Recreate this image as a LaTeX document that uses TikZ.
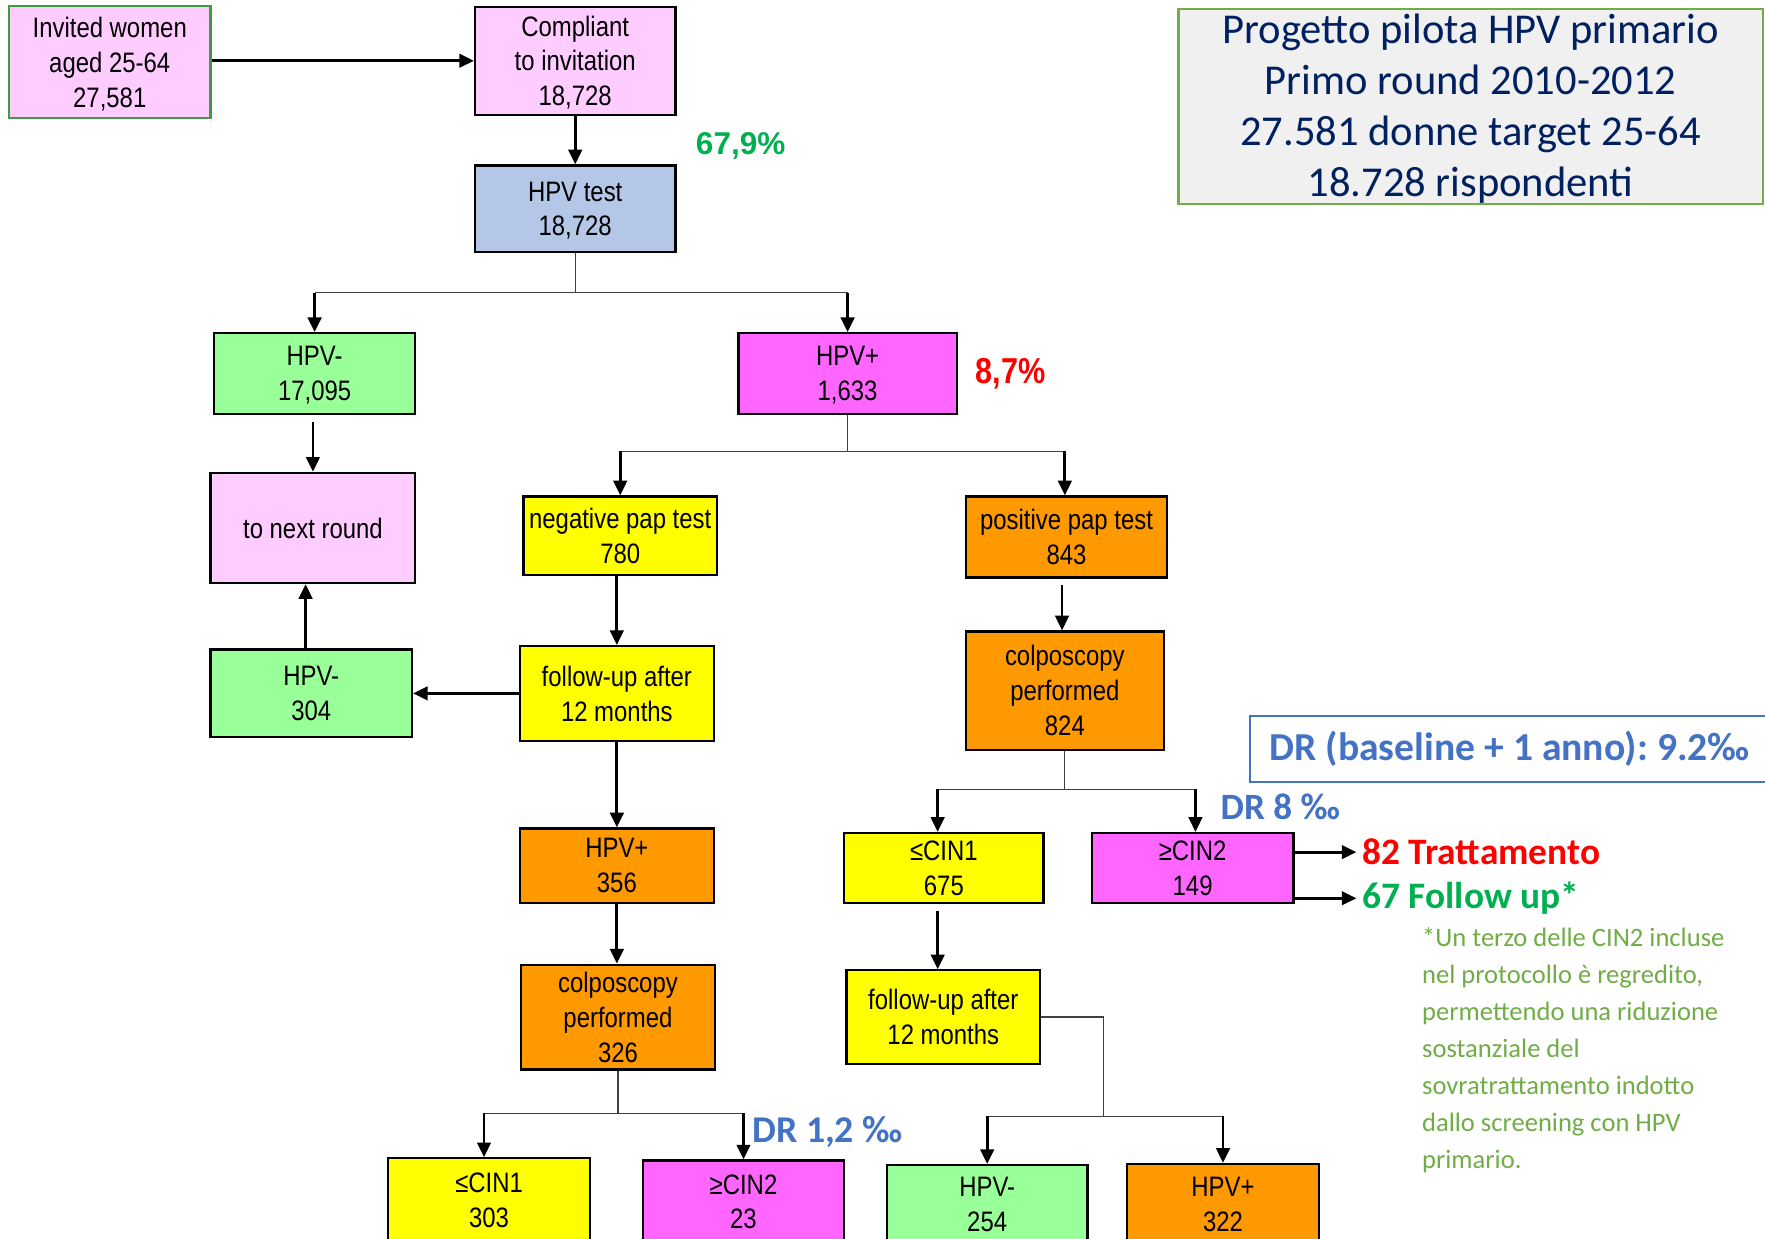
\documentclass[tikz,border=0pt]{standalone}
\usepackage{fontspec}
\setmainfont{Liberation Sans}
\newfontfamily\narrowf[FakeStretch=0.85]{Liberation Sans}
\newfontfamily\calib{Carlito}
\usetikzlibrary{arrows.meta,calc}
\frenchspacing
\definecolor{pinkf}{HTML}{FFCCFF}
\definecolor{bluef}{HTML}{B4C7E7}
\definecolor{greenf}{HTML}{99FF99}
\definecolor{magf}{HTML}{FF66FF}
\definecolor{yelf}{HTML}{FFFF00}
\definecolor{orf}{HTML}{FF9900}
\definecolor{bordgreen}{HTML}{3E9B3E}
\definecolor{titgreen}{HTML}{70AD47}
\definecolor{titfill}{HTML}{F0F0F0}
\definecolor{navy}{HTML}{002060}
\definecolor{drblue}{HTML}{4472C4}
\definecolor{brightgreen}{HTML}{00B050}
\definecolor{notegreen}{HTML}{70AD47}
\definecolor{thinline}{HTML}{404040}
\tikzset{
  bx/.style={draw=black, line width=1pt, inner sep=0pt, align=center,
    font=\narrowf\fontsize{12.5}{15.5}\selectfont, text depth=-2pt},
  wh/.style 2 args={minimum width=#1*0.5pt, minimum height=#2*0.5pt},
  arr/.style={line width=1.25pt, -{Triangle[length=6.5pt,width=6pt]}},
  thinl/.style={draw=thinline, line width=0.5pt},
  lbl/.style={inner sep=0pt, anchor=west},
}
\begin{document}
\begin{tikzpicture}[x=0.5pt, y=-0.5pt]
\useasboundingbox (0,0) rectangle (1568,1100);
\clip (0,0) rectangle (1568,1100);
\fill[white] (0,0) rectangle (1568,1100);

% boxes
\node[bx, fill=pinkf, draw=bordgreen, wh={179}{100}] (inv) at (97.5,55) {Invited women\\aged 25-64\\27,581};
\node[bx, fill=pinkf, wh={178}{96}] (comp) at (511,54) {Compliant\\to invitation\\18,728};
\node[bx, fill=bluef, wh={178}{77}] (hpvt) at (511,185.5) {HPV test\\18,728};
\node[bx, fill=greenf, wh={179}{72}] (hneg) at (279.5,332) {HPV-\\17,095};
\node[bx, fill=magf, wh={194}{72}] (hpos) at (753,332) {HPV+\\1,633};
\node[bx, fill=pinkf, wh={182}{98}] (next) at (278,469) {to next round};
\node[bx, fill=yelf, wh={172}{70}] (negpap) at (551,476) {negative pap test\\780};
\node[bx, fill=orf, wh={179}{72}] (pospap) at (947.5,477) {positive pap test\\843};
\node[bx, fill=greenf, wh={179}{78}] (hneg2) at (276.5,616) {HPV-\\304};
\node[bx, fill=yelf, wh={172}{84}] (fu1) at (548,616) {follow-up after\\12 months};
\node[bx, fill=orf, wh={176}{105}] (colp1) at (946,613.5) {colposcopy\\performed\\824};
\node[bx, fill=orf, wh={172}{66}] (hpos2) at (548,769) {HPV+\\356};
\node[bx, fill=yelf, wh={177}{62}] (cin1a) at (838.5,771) {≤CIN1\\675};
\node[bx, fill=magf, wh={179}{62}] (cin2a) at (1059.5,771) {≥CIN2\\149};
\node[bx, fill=yelf, wh={172}{83}] (fu2) at (838,903.5) {follow-up after\\12 months};
\node[bx, fill=orf, wh={172}{93}] (colp2) at (549,903.5) {colposcopy\\performed\\326};
\node[bx, fill=yelf, wh={179}{75}, anchor=north] (cin1b) at (434.5,1028) {≤CIN1\\303};
\node[bx, fill=magf, wh={179}{73}, anchor=north] (cin2b) at (660.5,1030) {≥CIN2\\23};
\node[bx, fill=greenf, wh={178}{69}, anchor=north] (hneg3) at (877,1034) {HPV-\\254};
\node[bx, fill=orf, wh={171}{71}, anchor=north] (hpos3) at (1086.5,1033) {HPV+\\322};

% title box
\node[draw=titgreen, line width=1pt, fill=titfill, wh={519}{173}, align=center, inner sep=0pt,
  text=navy, font=\calib\fontsize{18.9}{22.6}\selectfont, text depth=1.2pt] (title) at (1306.5,94.5)
  {Progetto pilota HPV primario\\Primo round 2010-2012\\27.581 donne target 25-64\\18.728 rispondenti};

% DR box
\node[draw=drblue, line width=0.8pt, fill=white, anchor=west, minimum height=59*0.5pt,
  inner xsep=8.5pt, inner ysep=0pt, text=drblue,
  font=\calib\bfseries\fontsize{17.6}{20}\selectfont] (drbox) at (1110,665.5)
  {DR (baseline + 1 anno): 9.2‰};

% labels
\node[inner sep=0pt, text=brightgreen, font=\bfseries\fontsize{14}{16}\selectfont] (p679) at (658,130) {67,9\%};
\node[inner sep=0pt, text=red, font=\narrowf\bfseries\fontsize{16}{18}\selectfont] (p87) at (898,332) {8,7\%};
\node[lbl, text=drblue, font=\calib\bfseries\fontsize{16.5}{19}\selectfont] (dr8) at (1084,717) {DR 8 ‰};
\node[lbl, text=drblue, font=\calib\bfseries\fontsize{16.8}{19}\selectfont] (dr12) at (668,1006) {DR 1,2 ‰};
\node[lbl, text=red, font=\calib\bfseries\fontsize{16.6}{18}\selectfont] (trat) at (1210,757) {82 Trattamento};
\node[lbl, text=brightgreen, font=\calib\bfseries\fontsize{16.6}{18}\selectfont] (fol) at (1210,798) {67 Follow up*};
\node[lbl, text=notegreen, align=left, font=\calib\fontsize{11.8}{16.5}\selectfont] (note) at (1263,933)
  {*Un terzo delle CIN2 incluse\\nel protocollo è regredito,\\permettendo una riduzione\\sostanziale del\\sovratrattamento indotto\\dallo screening con HPV\\primario.};

% connectors
\draw[arr] (inv.east |- comp.west) -- (comp.west);
\draw[arr] (comp.south) -- (hpvt.north);

\draw[thinl] (hpvt.south) -- ++(0,35) coordinate (j1);
\draw[thinl] (j1 -| hneg) -- (j1 -| hpos);
\draw[arr] (j1 -| hneg) -- (hneg.north);
\draw[arr] (j1 -| hpos) -- (hpos.north);

\draw[thinl] (hpos.south) -- ++(0,32) coordinate (j2);
\draw[thinl] (j2 -| negpap) -- ([xshift=-0.75pt]j2 -| pospap);
\draw[arr] (j2 -| negpap) -- (negpap.north);
\draw[arr] ([xshift=-0.75pt]j2 -| pospap) -- ([xshift=-0.75pt]pospap.north);

\draw[arr, shorten <=3pt] (hneg.south -| next) -- (next.north);
\draw[arr] ([xshift=-2.5pt]hneg2.north) -- ([xshift=-2.5pt]hneg2.north |- next.south);
\draw[arr] (fu1.west |- hneg2.east) -- (hneg2.east);
\draw[arr] (negpap.south -| fu1) -- (fu1.north);
\draw[arr] (fu1.south) -- (hpos2.north);
\draw[arr] (hpos2.south) -- (colp2.north -| hpos2.south);

\draw[thinl] (colp2.south) -- ++(0,38) coordinate (j3);
\draw[thinl] ([xshift=-2.25pt]j3 -| cin1b) -- (j3 -| cin2b);
\draw[arr] ([xshift=-2.25pt]j3 -| cin1b) -- ([xshift=-2.25pt]cin1b.north);
\draw[arr] (j3 -| cin2b) -- (cin2b.north);

\draw[arr, shorten <=3pt] ([xshift=-2pt]pospap.south) -- ([xshift=-2pt]pospap.south |- colp1.north);

\draw[thinl] (colp1.south) -- ++(0,34) coordinate (j4);
\draw[thinl] ([xshift=-2.75pt]j4 -| cin1a) -- ([xshift=1.25pt]j4 -| cin2a);
\draw[arr] ([xshift=-2.75pt]j4 -| cin1a) -- ([xshift=-2.75pt]cin1a.north);
\draw[arr] ([xshift=1.25pt]j4 -| cin2a) -- ([xshift=1.25pt]cin2a.north);

\draw[arr, shorten <=3pt] ([xshift=-2.75pt]cin1a.south) -- ([xshift=-2.75pt]cin1a.south |- fu2.north);

\draw[thinl] (fu2.east) -- ++(55,0) coordinate (k1) -- ++(0,88) coordinate (j5);
\draw[thinl] (j5 -| hneg3) -- (j5 -| hpos3);
\draw[arr] (j5 -| hneg3) -- (hneg3.north);
\draw[arr] (j5 -| hpos3) -- (hpos3.north);

\draw[arr, shorten >=2.5pt] (cin2a.east |- trat.west) -- (trat.west);
\draw[arr, shorten >=2.5pt] (cin2a.east |- fol.west) -- (fol.west);
\end{tikzpicture}
\end{document}
